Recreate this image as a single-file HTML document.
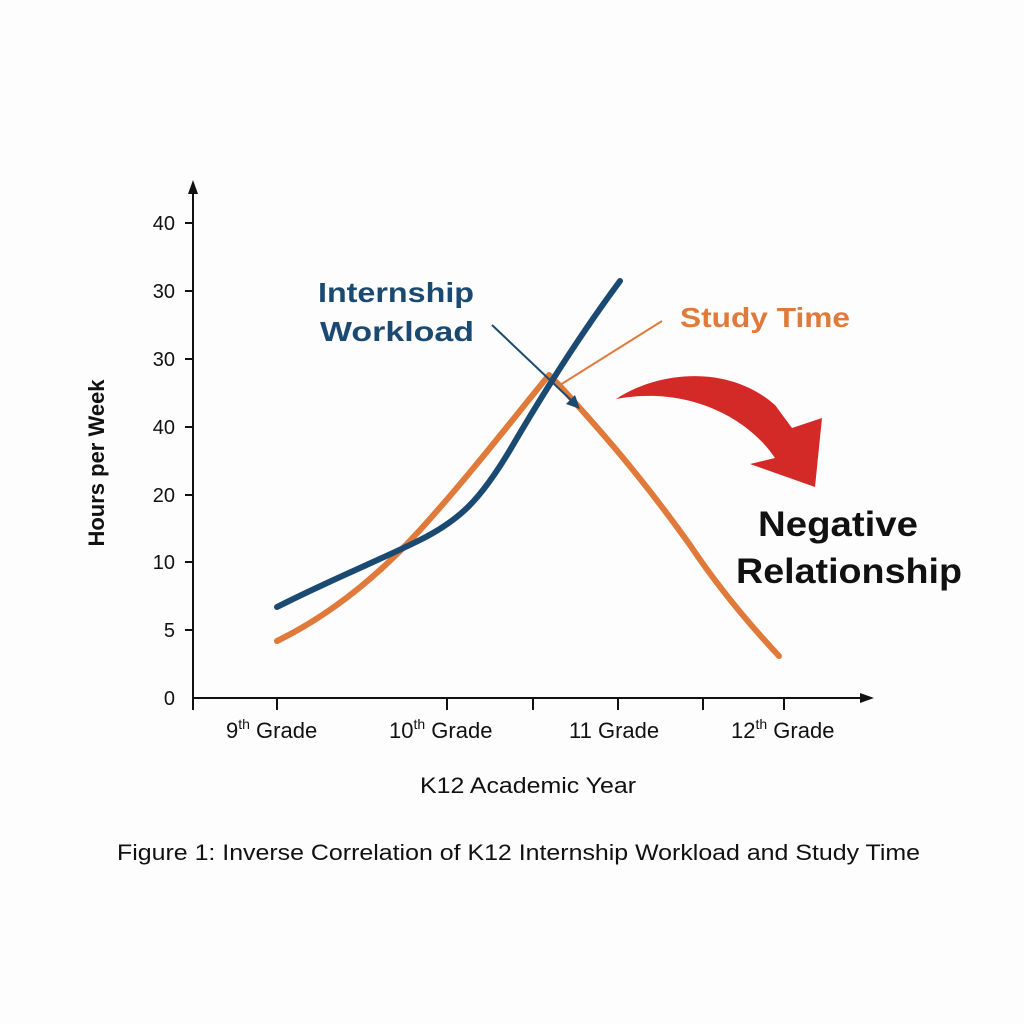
<!DOCTYPE html>
<html><head><style>
body{margin:0;background:#fdfdfd;}
svg{display:block;}
text{font-family:"Liberation Sans",sans-serif;}
</style></head><body>
<svg width="1024" height="1024" viewBox="0 0 1024 1024" xmlns="http://www.w3.org/2000/svg">
<rect width="1024" height="1024" fill="#fdfdfd"/>
<g stroke="#111" stroke-width="2" fill="none">
<line x1="193" y1="188" x2="193" y2="710"/>
<line x1="193" y1="698" x2="866" y2="698"/>
<line x1="185" y1="223" x2="193" y2="223"/><line x1="185" y1="291" x2="193" y2="291"/>
<line x1="185" y1="359" x2="193" y2="359"/><line x1="185" y1="427" x2="193" y2="427"/>
<line x1="185" y1="495" x2="193" y2="495"/><line x1="185" y1="562" x2="193" y2="562"/>
<line x1="185" y1="630" x2="193" y2="630"/>
<line x1="277" y1="698" x2="277" y2="710"/><line x1="447" y1="698" x2="447" y2="710"/>
<line x1="533" y1="698" x2="533" y2="710"/><line x1="618" y1="698" x2="618" y2="710"/>
<line x1="703" y1="698" x2="703" y2="710"/><line x1="784" y1="698" x2="784" y2="710"/>
</g>
<polygon points="193,180 188,194 198,194" fill="#111"/>
<polygon points="874,698 860,693 860,703" fill="#111"/>
<g font-size="20" fill="#111" text-anchor="end">
<text x="175" y="230">40</text><text x="175" y="298">30</text><text x="175" y="366">30</text>
<text x="175" y="434">40</text><text x="175" y="502">20</text><text x="175" y="569">10</text>
<text x="175" y="637">5</text><text x="175" y="705">0</text>
</g>
<g font-size="22" fill="#111">
<text x="226" y="738">9<tspan font-size="14" dy="-9">th</tspan><tspan dy="9"> Grade</tspan></text>
<text x="389" y="738">10<tspan font-size="14" dy="-9">th</tspan><tspan dy="9"> Grade</tspan></text>
<text x="569" y="738">11 Grade</text>
<text x="731" y="738">12<tspan font-size="14" dy="-9">th</tspan><tspan dy="9"> Grade</tspan></text>
<text x="420" y="793" textLength="216" lengthAdjust="spacingAndGlyphs">K12 Academic Year</text>
<text x="117" y="860" textLength="803" lengthAdjust="spacingAndGlyphs">Figure 1: Inverse Correlation of K12 Internship Workload and Study Time</text>
</g>
<text transform="translate(104,463) rotate(-90)" font-size="22" font-weight="bold" text-anchor="middle" fill="#111">Hours per Week</text>
<path d="M277,641 C320,620 370,585 420,530 C470,475 520,410 549,375 L560,386 C600,430 640,475 690,545 C720,590 750,625 779,656" fill="none" stroke="#e07a3a" stroke-width="6" stroke-linecap="round" stroke-linejoin="round"/>
<path d="M277,607 C330,580 380,560 420,540 C460,520 480,500 510,450 C545,390 580,335 620,281" fill="none" stroke="#1a4a72" stroke-width="6" stroke-linecap="round"/>
<line x1="560" y1="385" x2="662" y2="321" stroke="#e07a3a" stroke-width="2"/>
<line x1="492" y1="325" x2="572" y2="401" stroke="#1a4a72" stroke-width="2"/>
<polygon points="580,409 566,404 575,395" fill="#1a4a72"/>
<text x="318" y="302" font-size="28" font-weight="bold" fill="#1a4a72" textLength="156" lengthAdjust="spacingAndGlyphs">Internship</text>
<text x="320" y="341" font-size="28" font-weight="bold" fill="#1a4a72" textLength="154" lengthAdjust="spacingAndGlyphs">Workload</text>
<text x="680" y="327" font-size="28" font-weight="bold" fill="#e07a3a" textLength="170" lengthAdjust="spacingAndGlyphs">Study Time</text>
<path d="M616,399 C660,370 730,365 775,405 L792,428 L822,418 L815,487 L750,464 L775,458 C750,420 690,385 616,399 Z" fill="#d42a27"/>
<g font-size="35" font-weight="bold" fill="#111">
<text x="758" y="536" textLength="160" lengthAdjust="spacingAndGlyphs">Negative</text>
<text x="736" y="583" textLength="226" lengthAdjust="spacingAndGlyphs">Relationship</text>
</g>
</svg>
</body></html>
